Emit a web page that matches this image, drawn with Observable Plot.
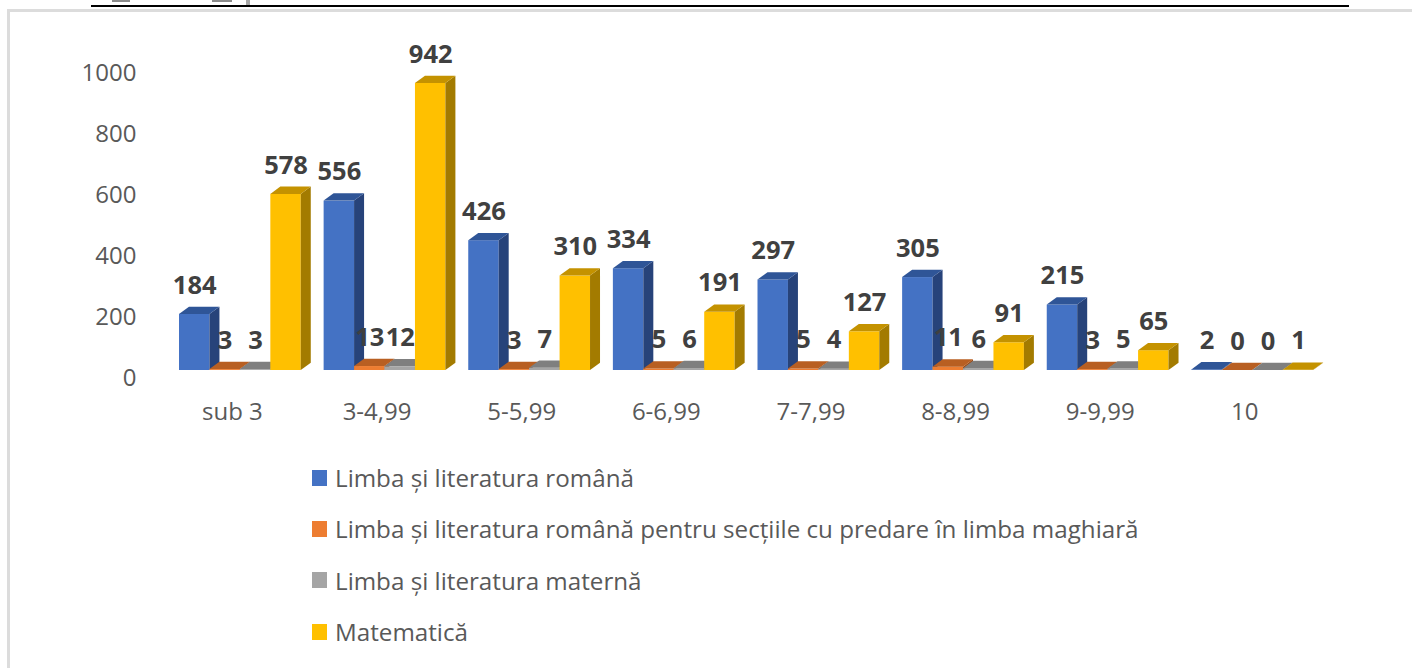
<!DOCTYPE html>
<html lang="ro">
<head>
<meta charset="utf-8">
<script src="https://cdn.jsdelivr.net/npm/d3@7"></script>
<script src="https://cdn.jsdelivr.net/npm/@observablehq/plot@0.6"></script>
<style>
  html, body { margin: 0; padding: 0; background: #fff; width: 1412px; height: 668px; overflow: hidden; }
  body { position: relative; font-family: "Open Sans", sans-serif; }
  .deco { position: absolute; }
  #chart { position: absolute; left: 0; top: 0; }
  #chart svg { display: block; background: transparent; }
  #legend { position: absolute; left: 312px; top: 452px; color: #595959; font-size: 24.2px; line-height: 51.3px; }
  .item { display: flex; align-items: center; height: 51.3px; white-space: nowrap; }
  .swatch { width: 15px; height: 16px; margin-right: 8px; flex: none; }
</style>
</head>
<body>
<div class="deco" style="left:112px;top:0;width:18px;height:1.5px;background:#8a8a8a"></div>
<div class="deco" style="left:212px;top:0;width:20px;height:1.5px;background:#8a8a8a"></div>
<div class="deco" style="left:246px;top:0;width:4px;height:5px;background:#a8a8a8"></div>
<div class="deco" style="left:91px;top:5px;width:1258px;height:2px;background:#000"></div>
<div class="deco" style="left:8px;top:9px;width:1404px;height:3px;background:#dcdcdc"></div>
<div class="deco" style="left:7px;top:9px;width:3px;height:659px;background:#dcdcdc"></div>
<div id="chart"></div>
<div id="legend"></div>
<script>
const categories = ["sub 3", "3-4,99", "5-5,99", "6-6,99", "7-7,99", "8-8,99", "9-9,99", "10"];
const seriesNames = [
  "Limba și literatura română",
  "Limba și literatura română pentru secțiile cu predare în limba maghiară",
  "Limba şi literatura maternă",
  "Matematică"
];
const romana = [184, 556, 426, 334, 297, 305, 215, 2];
const romanaMaghiara = [3, 13, 3, 5, 5, 11, 3, 0];
const materna = [3, 12, 7, 6, 4, 6, 5, 0];
const matematica = [578, 942, 310, 191, 127, 91, 65, 1];
const yTicks = [0, 200, 400, 600, 800, 1000];

const seriesValues = [romana, romanaMaghiara, materna, matematica];
const frontColors = ["#4472C4", "#ED7D31", "#A5A5A5", "#FFC000"];
const topColors = ["#2F5597", "#B85F22", "#7F7F7F", "#C49200"];
const sideColors = ["#27437A", "#9E4A12", "#666666", "#A37B00"];
const slot = 0.2105;
const labelOffset = 0.366;
const depthX = 10, depthY = 7.3;

const rows = seriesValues.map((vals, s) => vals.map((v, g) => ({group: g, series: s, value: v})));

function faces(s) {
  return (index, scales, values, dimensions, context, next) => {
    const g = next(index, scales, values, dimensions, context);
    const sel = d3.select(g);
    for (const i of index) {
      const l = values.x1[i], r = values.x2[i];
      const b = Math.max(values.y1[i], values.y2[i]), t = Math.min(values.y1[i], values.y2[i]);
      sel.append("polygon")
        .attr("fill", sideColors[s])
        .attr("points", [[r, b], [r + depthX, b - depthY], [r + depthX, t - depthY], [r, t]].join(" "));
      sel.append("polygon")
        .attr("fill", topColors[s])
        .attr("points", [[l, t], [l + depthX, t - depthY], [r + depthX, t - depthY], [r, t]].join(" "));
    }
    return g;
  };
}

const barMarks = rows.map((data, s) => Plot.rect(data, {
  x1: d => d.group + s * slot,
  x2: d => d.group + (s + 1) * slot,
  y1: 0,
  y2: "value",
  fill: frontColors[s],
  render: faces(s)
}));

const chart = Plot.plot({
  width: 1412,
  height: 440,
  marginLeft: 179,
  marginRight: 76,
  marginTop: 65.3,
  marginBottom: 70,
  style: {background: "transparent", fontFamily: "'Open Sans', sans-serif"},
  x: {domain: [0, 8]},
  y: {domain: [0, 1000]},
  marks: [
    ...barMarks,
    Plot.axisY({
      ticks: yTicks, tickFormat: "d", tickSize: 0, tickPadding: 43, dy: 8,
      label: null, fontSize: 24, fill: "#595959"
    }),
    Plot.axisX({
      ticks: categories.map((c, i) => i + labelOffset),
      tickFormat: v => categories[Math.round(v - labelOffset)],
      tickSize: 0, tickPadding: 32, label: null, fontSize: 24, fill: "#595959"
    }),
    Plot.text(rows.flat(), {
      x: d => d.group + (d.series + 0.5) * slot,
      y: "value",
      text: d => String(d.value),
      dy: -29,
      fontSize: 25.5,
      fontWeight: 700,
      fill: "#404040"
    })
  ]
});
document.getElementById("chart").append(chart);

const legend = d3.select("#legend");
seriesNames.forEach((name, i) => {
  const item = legend.append("div").attr("class", "item");
  item.append("span").attr("class", "swatch").style("background", frontColors[i]);
  item.append("span").text(name);
});
</script>
</body>
</html>
